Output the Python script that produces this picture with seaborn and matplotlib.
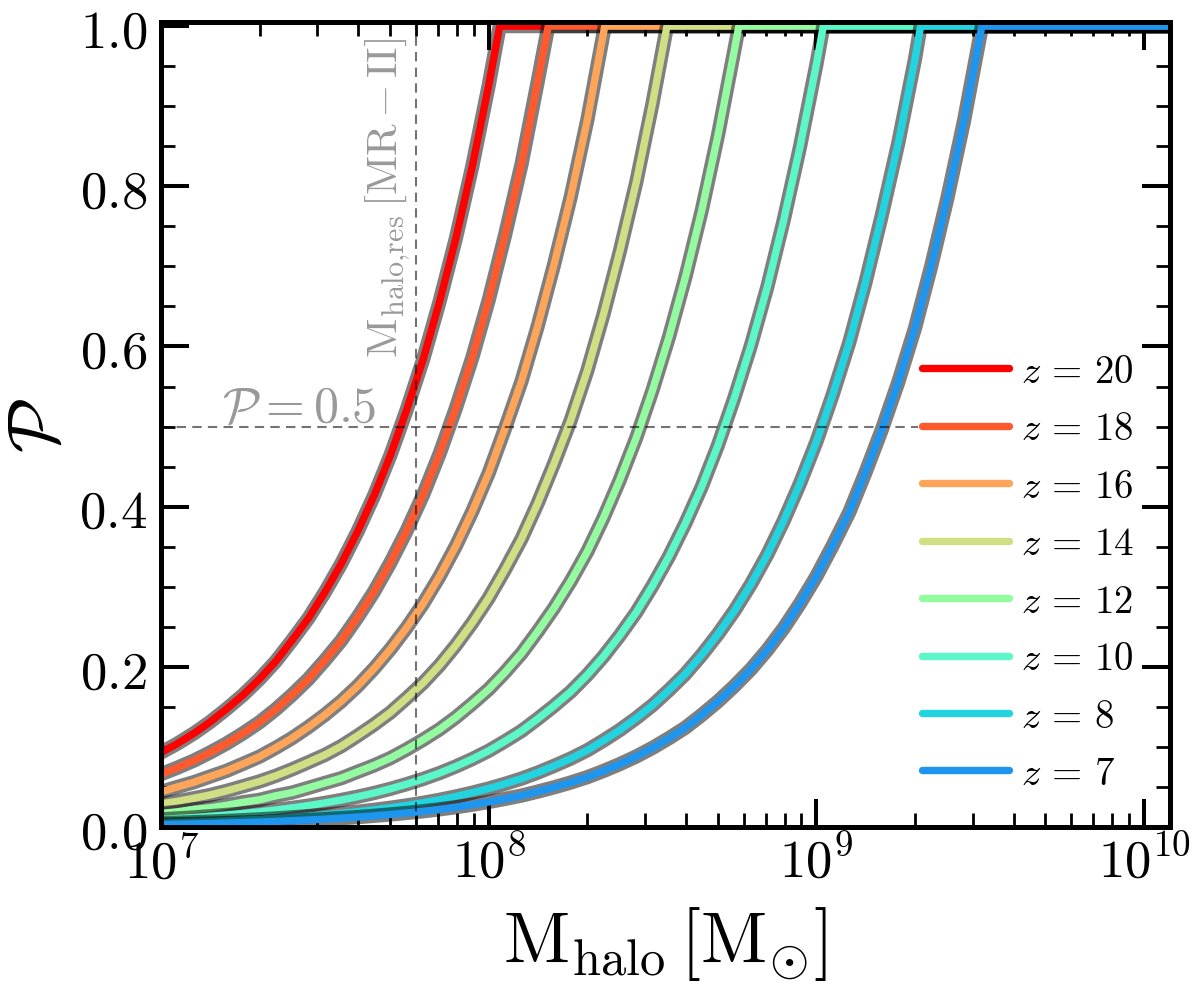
import numpy as np
import pandas as pd
import matplotlib
matplotlib.use("Agg")
import matplotlib.pyplot as plt
import matplotlib.patheffects as pe
import matplotlib.transforms as mtransforms
from matplotlib.lines import Line2D
from matplotlib.ticker import (FixedLocator, LogLocator, MultipleLocator,
                               FuncFormatter, NullFormatter)
import seaborn as sns

# ---------------- data ----------------
redshifts = [20, 18, 16, 14, 12, 10, 8, 7]
colors = ["#ff0000", "#ff5a2d", "#ffa55a", "#d0de84",
          "#94fca0", "#5af8c8", "#22d4e0", "#1e96f0"]

mass_grid = [1.0e7, 1.12e7, 1.26e7, 1.41e7, 1.58e7, 1.78e7, 2.0e7, 2.24e7, 2.51e7, 2.82e7,
             3.16e7, 3.55e7, 3.98e7, 4.47e7, 5.01e7, 5.62e7, 6.31e7, 7.08e7, 7.94e7, 8.91e7,
             1.0e8, 1.12e8, 1.26e8, 1.41e8, 1.58e8, 1.78e8, 2.0e8, 2.24e8, 2.51e8, 2.82e8,
             3.16e8, 3.55e8, 3.98e8, 4.47e8, 5.01e8, 5.62e8, 6.31e8, 7.08e8, 7.94e8, 8.91e8,
             1.0e9, 1.12e9, 1.26e9, 1.41e9, 1.58e9, 1.78e9, 2.0e9, 2.24e9, 2.51e9, 2.82e9,
             3.16e9]

p_z20 = [0.093, 0.104, 0.117, 0.131, 0.147, 0.165, 0.185, 0.207, 0.233, 0.261, 0.293,
         0.329, 0.369, 0.414, 0.464, 0.521, 0.584, 0.656, 0.735, 0.825, 0.926]
p_z18 = [0.066, 0.074, 0.083, 0.093, 0.104, 0.117, 0.131, 0.147, 0.165, 0.185, 0.208,
         0.233, 0.262, 0.294, 0.330, 0.370, 0.415, 0.466, 0.523, 0.586, 0.658, 0.738,
         0.828, 0.930]
p_z16 = [0.044, 0.050, 0.056, 0.063, 0.070, 0.079, 0.088, 0.099, 0.111, 0.125, 0.140,
         0.157, 0.176, 0.198, 0.222, 0.249, 0.279, 0.313, 0.351, 0.394, 0.442, 0.497,
         0.557, 0.625, 0.701, 0.787, 0.883, 0.991]
p_z14 = [0.029, 0.032, 0.036, 0.040, 0.045, 0.051, 0.057, 0.064, 0.072, 0.081, 0.090,
         0.101, 0.114, 0.128, 0.143, 0.161, 0.180, 0.202, 0.227, 0.255, 0.286, 0.321,
         0.360, 0.404, 0.453, 0.508, 0.570, 0.640, 0.718, 0.805, 0.903]
p_z12 = [0.017, 0.019, 0.022, 0.024, 0.027, 0.031, 0.034, 0.039, 0.043, 0.049, 0.055,
         0.061, 0.069, 0.077, 0.086, 0.097, 0.109, 0.122, 0.137, 0.154, 0.172, 0.193,
         0.217, 0.244, 0.273, 0.307, 0.344, 0.386, 0.433, 0.486, 0.545, 0.612, 0.686,
         0.770, 0.864, 0.970]
p_z10 = [0.0095, 0.0107, 0.012, 0.0135, 0.0151, 0.0169, 0.019, 0.0213, 0.0239, 0.0268,
         0.0301, 0.0338, 0.0379, 0.0425, 0.0477, 0.0536, 0.0601, 0.0674, 0.0757, 0.0849,
         0.0952, 0.107, 0.120, 0.135, 0.151, 0.169, 0.190, 0.213, 0.239, 0.268, 0.301,
         0.338, 0.379, 0.425, 0.477, 0.536, 0.601, 0.674, 0.757, 0.849, 0.952]
p_z8 = [0.0048, 0.0054, 0.0061, 0.0068, 0.0076, 0.0086, 0.0096, 0.0108, 0.0121, 0.0136,
        0.0152, 0.0171, 0.0191, 0.0215, 0.0241, 0.0270, 0.0303, 0.0340, 0.0382, 0.0429,
        0.0481, 0.0539, 0.0605, 0.0679, 0.0762, 0.0855, 0.0959, 0.108, 0.121, 0.136,
        0.152, 0.171, 0.191, 0.215, 0.241, 0.270, 0.303, 0.340, 0.382, 0.429, 0.481,
        0.539, 0.605, 0.679, 0.762, 0.855, 0.959]
p_z7 = [0.0031, 0.0035, 0.0039, 0.0044, 0.0050, 0.0056, 0.0062, 0.0070, 0.0079, 0.0088,
        0.0099, 0.0111, 0.0124, 0.0140, 0.0157, 0.0176, 0.0197, 0.0221, 0.0248, 0.0279,
        0.0313, 0.0351, 0.0393, 0.0442, 0.0495, 0.0556, 0.0623, 0.0700, 0.0785, 0.0881,
        0.0988, 0.111, 0.124, 0.140, 0.157, 0.176, 0.197, 0.221, 0.248, 0.279, 0.313,
        0.351, 0.393, 0.442, 0.495, 0.556, 0.623, 0.700, 0.785, 0.881, 0.988]

# mass at which each curve reaches P = 1
m_sat = [1.08e8, 1.52e8, 2.26e8, 3.5e8, 5.8e8, 1.05e9, 2.08e9, 3.2e9]
m_res = 6.0e7
p_half = 0.5
x_min, x_max = 1.0e7, 1.2e10

# ---------------- style ----------------
sns.set_style("ticks")
plt.rcParams["mathtext.fontset"] = "cm"
plt.rcParams["font.family"] = ["DejaVu Sans"]
for k in ["text.color", "axes.labelcolor", "xtick.color", "ytick.color", "axes.edgecolor"]:
    plt.rcParams[k] = "black"

fig = plt.figure(figsize=(12, 9.95), dpi=100)
ax = fig.add_axes([0.1342, 0.1678, 0.8408, 0.8090])
ax.set_xscale("log")

series = [p_z20, p_z18, p_z16, p_z14, p_z12, p_z10, p_z8, p_z7]
lw = 5.3
for z, c, p, ms in zip(redshifts, colors, series, m_sat):
    df = pd.DataFrame({"M": mass_grid[:len(p)] + [ms, x_max],
                       "P": p + [1.0, 1.0]})
    sns.lineplot(data=df, x="M", y="P", color=c, lw=lw, ax=ax, legend=False,
                 sort=False, zorder=2,
                 path_effects=[pe.Stroke(linewidth=lw + 5.0, foreground="k", alpha=0.5),
                               pe.Normal()])

# reference lines
ax.axhline(p_half, xmax=0.750, color="k", alpha=0.55, lw=1.5, ls=(0, (4.5, 3)), zorder=3)
ax.axvline(m_res, color="k", alpha=0.55, lw=1.5, ls=(0, (4.5, 3)), zorder=3)

ax.text(0.06, 0.505, r"$\mathcal{P}=0.5$", transform=ax.transAxes, fontsize=36,
        color="#999999", ha="left", va="baseline")
trans = mtransforms.offset_copy(ax.get_xaxis_transform(), fig=fig, x=-4, y=0, units="dots")
ax.text(m_res, 0.584, r"$\mathrm{M_{halo{,}res}}\,[\mathrm{MR}\,{-}\,\mathrm{II}]$",
        transform=trans, rotation=90, fontsize=31, color="#999999",
        ha="right", va="bottom")

# axes
ax.set_xlim(x_min, x_max)
ax.set_ylim(0, 1.005)
ax.xaxis.set_major_locator(FixedLocator([1e7, 1e8, 1e9, 1e10]))
ax.xaxis.set_major_formatter(FuncFormatter(lambda v, pos: r"$10^{%d}$" % round(np.log10(v))))
ax.xaxis.set_minor_locator(LogLocator(base=10, subs=np.arange(2, 10), numticks=30))
ax.xaxis.set_minor_formatter(NullFormatter())
ax.yaxis.set_major_locator(MultipleLocator(0.2))
ax.yaxis.set_major_formatter(FuncFormatter(lambda v, pos: r"$%.1f$" % v))
ax.yaxis.set_minor_locator(MultipleLocator(0.05))

ax.tick_params(which="both", direction="in", top=True, right=True)
ax.tick_params(which="major", length=20, width=2.9, labelsize=38)
ax.tick_params(which="minor", length=10, width=2.0)
ax.tick_params(axis="x", which="major", pad=6)
ax.tick_params(axis="y", which="major", pad=10)
for s in ax.spines.values():
    s.set_linewidth(3.6)
    s.set_color("black")

ax.set_xlabel(r"$\mathrm{M_{halo}}\,[\mathrm{M_{\odot}}]$", fontsize=52)
ax.set_ylabel(r"$\mathcal{P}$", fontsize=52)
ax.xaxis.set_label_coords(0.5, -0.095)
ax.yaxis.set_label_coords(-0.086, 0.5)

# legend
handles = [Line2D([], [], color=c, lw=lw) for c in colors]
labels = [r"$z\,=\,%d$" % z for z in redshifts]
leg = ax.legend(handles, labels, loc="upper left", bbox_to_anchor=(0.750, 0.595),
                borderaxespad=0, borderpad=0.1, fontsize=28, handlelength=2.25,
                handletextpad=0.3, labelspacing=0.5, frameon=True, fancybox=False)
leg.get_frame().set_facecolor("white")
leg.get_frame().set_edgecolor("none")
leg.get_frame().set_alpha(1.0)

fig.savefig("out.png", dpi=100)
